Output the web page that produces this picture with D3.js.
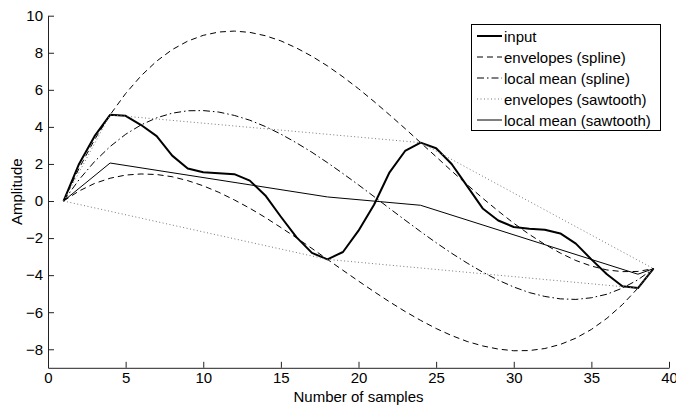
<!DOCTYPE html>
<html>
<head>
<meta charset="utf-8">
<script src="https://cdn.jsdelivr.net/npm/d3@7"></script>
<style>
  body { margin: 0; background: #fff; }
  text { font-family: "Liberation Sans", Arial, sans-serif; font-size: 15px; fill: #000; }
</style>
</head>
<body>
<script>
// sample index of the signal
var samples = [1,2,3,4,5,6,7,8,9,10,11,12,13,14,15,16,17,18,19,20,
               21,22,23,24,25,26,27,28,29,30,31,32,33,34,35,36,37,38,39];

var input = [0, 2.0, 3.5, 4.65, 4.6, 4.1, 3.5, 2.45, 1.75, 1.55,
             1.5, 1.45, 1.1, 0.3, -0.85, -1.95, -2.8, -3.15, -2.75, -1.6,
             -0.2, 1.55, 2.7, 3.15, 2.85, 2.0, 0.8, -0.4, -1.05, -1.4,
             -1.5, -1.55, -1.75, -2.3, -3.15, -3.95, -4.6, -4.7, -3.65];

var upperSpline = [0, 1.76, 3.31, 4.65, 5.80, 6.76, 7.55, 8.17, 8.63, 8.94,
                   9.12, 9.17, 9.10, 8.92, 8.64, 8.26, 7.81, 7.29, 6.70, 6.06,
                   5.37, 4.65, 3.91, 3.15, 2.39, 1.62, 0.88, 0.15, -0.54, -1.20,
                   -1.80, -2.34, -2.81, -3.21, -3.51, -3.72, -3.81, -3.80, -3.65];

var lowerSpline = [0, 0.54, 0.95, 1.23, 1.40, 1.46, 1.43, 1.31, 1.10, 0.82,
                   0.47, 0.06, -0.39, -0.89, -1.43, -1.98, -2.56, -3.15, -3.74, -4.32,
                   -4.89, -5.44, -5.96, -6.44, -6.88, -7.26, -7.58, -7.82, -7.99, -8.08,
                   -8.07, -7.96, -7.74, -7.40, -6.93, -6.33, -5.59, -4.70, -3.65];

var meanSpline = [0, 1.15, 2.13, 2.94, 3.60, 4.11, 4.49, 4.74, 4.87, 4.88,
                  4.80, 4.62, 4.36, 4.02, 3.61, 3.14, 2.63, 2.07, 1.48, 0.87,
                  0.24, -0.40, -1.03, -1.65, -2.25, -2.82, -3.35, -3.84, -4.27, -4.64,
                  -4.94, -5.15, -5.28, -5.31, -5.22, -5.03, -4.70, -4.25, -3.65];

// sawtooth envelopes: straight lines between the extrema
var upperSawX = [1, 4, 24, 39];
var upperSawY = [0, 4.65, 3.15, -3.65];
var lowerSawX = [1, 18, 38, 39];
var lowerSawY = [0, -3.15, -4.7, -3.65];
var meanSawX  = [1, 4, 18, 24, 38, 39];
var meanSawY  = [0, 2.05, 0.22, -0.23, -3.95, -3.65];

var xTicks = [0, 5, 10, 15, 20, 25, 30, 35, 40];
var yTicks = [-8, -6, -4, -2, 0, 2, 4, 6, 8, 10];

var legendLabels = ['input', 'envelopes (spline)', 'local mean (spline)',
                    'envelopes (sawtooth)', 'local mean (sawtooth)'];

var svg = d3.select('body').append('svg')
            .attr('width', 676)
            .attr('height', 407);

var x = d3.scaleLinear().domain([0, 40]).range([48, 669]);
var y = d3.scaleLinear().domain([-9, 10]).range([367.8, 15.7]);

var styles = [
  {width: 2,   color: '#000', dash: null},
  {width: 1,   color: '#000', dash: '6,4'},
  {width: 1,   color: '#000', dash: '7,3,1.5,3'},
  {width: 1,   color: '#777', dash: '1,2.5'},
  {width: 1,   color: '#000', dash: null}
];

function zip(xs, ys){
  return xs.map(function(d, i){ return [d, ys[i]]; });
}

var line = d3.line()
             .x(function(d){ return x(d[0]); })
             .y(function(d){ return y(d[1]); });

function drawPath(g, points, style){
  g.append('path')
   .attr('d', line(points))
   .attr('fill', 'none')
   .attr('stroke', style.color)
   .attr('stroke-width', style.width)
   .attr('stroke-dasharray', style.dash)
   .attr('stroke-linejoin', 'round');
}

function drawLines(g){
  drawPath(g, zip(samples, input), styles[0]);
  drawPath(g, zip(samples, upperSpline), styles[1]);
  drawPath(g, zip(samples, lowerSpline), styles[1]);
  drawPath(g, zip(samples, meanSpline), styles[2]);
  drawPath(g, zip(upperSawX, upperSawY), styles[3]);
  drawPath(g, zip(lowerSawX, lowerSawY), styles[3]);
  drawPath(g, zip(meanSawX, meanSawY), styles[4]);
}

function drawAxes(g){
  var xAxis = d3.axisBottom(x).tickValues(xTicks).tickSizeInner(-6).tickSizeOuter(0).tickPadding(5);
  var yAxis = d3.axisLeft(y).tickValues(yTicks).tickSizeInner(-6).tickSizeOuter(0).tickPadding(5)
                .tickFormat(function(d){ return d < 0 ? '\u2212' + Math.abs(d) : d; });

  var gx = g.append('g').attr('transform', 'translate(0,' + y(-9) + ')').call(xAxis);
  var gy = g.append('g').attr('transform', 'translate(' + x(0) + ',0)').call(yAxis);

  [gx, gy].forEach(function(a){
    a.selectAll('text').attr('font-size', 15).attr('font-family', null);
    a.select('.domain').attr('stroke', '#222');
    a.selectAll('.tick line').attr('stroke', '#222');
  });

  g.append('text')
   .attr('x', x(20)).attr('y', 402)
   .attr('text-anchor', 'middle')
   .text('Number of samples');

  g.append('text')
   .attr('transform', 'translate(22,' + y(0.5) + ') rotate(-90)')
   .attr('text-anchor', 'middle')
   .text('Amplitude');
}

function drawLegend(g){
  var leg = g.append('g');
  leg.append('rect')
     .attr('x', 471.5).attr('y', 24.5)
     .attr('width', 189).attr('height', 106)
     .attr('fill', '#fff').attr('stroke', '#000');

  legendLabels.forEach(function(label, i){
    var ly = 36 + i * 21;
    var s = styles[i];
    leg.append('line')
       .attr('x1', 477).attr('x2', 502)
       .attr('y1', ly).attr('y2', ly)
       .attr('stroke', s.color)
       .attr('stroke-width', s.width)
       .attr('stroke-dasharray', s.dash);
    leg.append('text')
       .attr('x', 504).attr('y', ly + 5.5)
       .attr('font-size', 15.5)
       .text(label);
  });
}

function render(svg){
  drawLines(svg);
  drawAxes(svg);
  drawLegend(svg);
}

render(svg);
</script>
</body>
</html>
